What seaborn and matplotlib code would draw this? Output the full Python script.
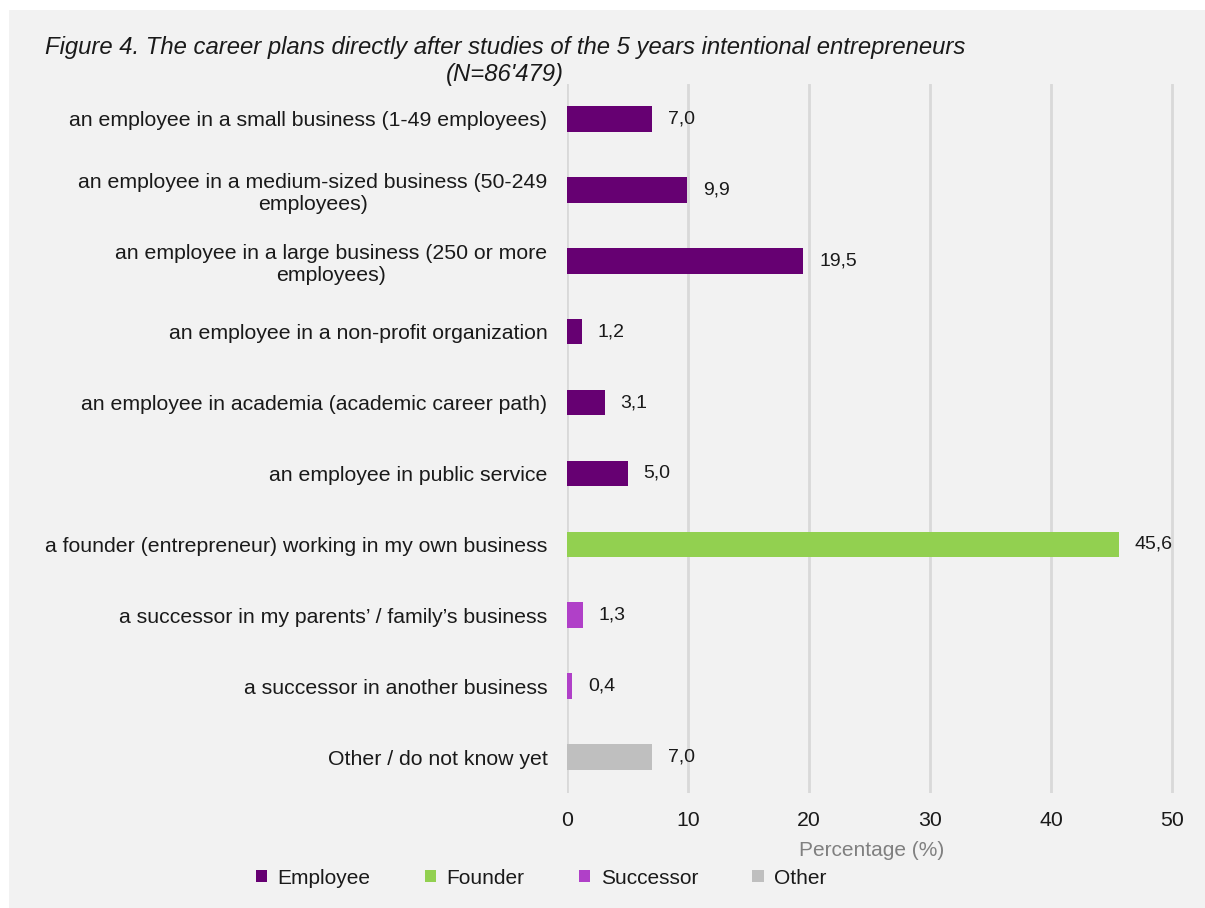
import matplotlib
matplotlib.use("Agg")
import matplotlib.pyplot as plt
from matplotlib.patches import Rectangle, Patch
import seaborn as sns
import pandas as pd

categories = [
    "an employee in a small business (1-49 employees)",
    "an employee in a medium-sized business (50-249\nemployees)",
    "an employee in a large business (250 or more\nemployees)",
    "an employee in a non-profit organization",
    "an employee in academia (academic career path)",
    "an employee in public service",
    "a founder (entrepreneur) working in my own business",
    "a successor in my parents\u2019 / family\u2019s business",
    "a successor in another business",
    "Other / do not know yet",
]
values = [7.0, 9.9, 19.5, 1.2, 3.1, 5.0, 45.6, 1.3, 0.4, 7.0]
groups = ["Employee"] * 6 + ["Founder"] + ["Successor"] * 2 + ["Other"]
group_order = ["Employee", "Founder", "Successor", "Other"]
palette = {"Employee": "#660072", "Founder": "#92d050",
           "Successor": "#b040c8", "Other": "#bfbfbf"}
x_ticks = [0, 10, 20, 30, 40, 50]

df = pd.DataFrame({"category": categories, "value": values, "group": groups})

sns.set_theme(style="white")
plt.rcParams["font.family"] = ["Liberation Sans", "DejaVu Sans"]

W, H = 1205, 908
fig = plt.figure(figsize=(W / 100, H / 100), dpi=100, facecolor="white")
fig.patches.append(Rectangle((9 / W, 0), 1 - 9 / W, 1 - 10 / H,
                             transform=fig.transFigure, facecolor="#f2f2f2",
                             edgecolor="none", zorder=-10))

ax = fig.add_axes([567 / W, 1 - 792.5 / H, 610 / W, 709 / H])
ax.patch.set_alpha(0)

sns.barplot(data=df, x="value", y="category", hue="group", order=categories,
            hue_order=group_order, palette=palette, dodge=False, width=0.36,
            saturation=1, legend=False, linewidth=0, ax=ax, zorder=3)

ax.set_xlim(0, 50.4)
ax.set_xticks(x_ticks)
ax.set_xticklabels([str(t) for t in x_ticks])
for t in x_ticks:
    ax.axvline(t, color="#d9d9d9", lw=2, zorder=1)
for s in ax.spines.values():
    s.set_visible(False)
ax.tick_params(axis="both", length=0, labelsize=15.3, colors="#1a1a1a")
ax.tick_params(axis="y", pad=14)
ax.tick_params(axis="x", pad=13)
for lab in ax.get_yticklabels():
    lab.set_multialignment("center")
ax.set_ylabel("")
ax.set_xlabel("Percentage (%)", fontsize=15, color="#808080", labelpad=8)

for i, v in enumerate(values):
    ax.annotate(f"{v:.1f}".replace(".", ","), xy=(v, i), xytext=(16, 0),
                textcoords="offset pixels", va="center", ha="left",
                fontsize=14, color="#1a1a1a")

fig.text(505 / W, 1 - 61 / H,
         "Figure 4. The career plans directly after studies of the 5 years intentional entrepreneurs\n(N=86'479)",
         ha="center", va="center", fontsize=17.2, style="italic", color="#1a1a1a",
         linespacing=1.25)

handles = [Patch(facecolor=palette[g], edgecolor="none", label=g) for g in group_order]
fig.legend(handles=handles, loc="center", bbox_to_anchor=(541 / W, 1 - 878 / H),
           ncol=4, frameon=False, fontsize=15, handlelength=0.55,
           handleheight=0.55, handletextpad=0.5, columnspacing=2.6,
           labelcolor="#1a1a1a")

fig.savefig("out.png", dpi=100, facecolor="white")
